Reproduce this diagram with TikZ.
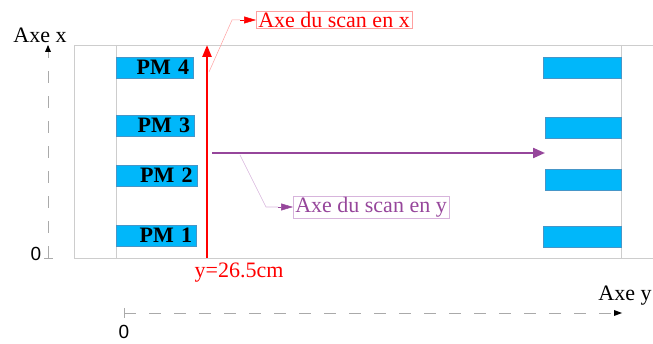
\documentclass[tikz,border=0pt]{standalone}
\usepackage{fontspec}
\setmainfont{Liberation Serif}
\newfontfamily\zerofont{Liberation Sans}
\usetikzlibrary{arrows.meta}
\definecolor{pmblue}{RGB}{0,183,250}
\definecolor{pmedge}{RGB}{70,150,200}
\definecolor{frame}{RGB}{205,205,205}
\definecolor{axgray}{RGB}{170,170,170}
\definecolor{scanpurple}{RGB}{150,70,155}
\definecolor{lightpurple}{RGB}{215,180,220}
\definecolor{lightred}{RGB}{255,160,160}
\tikzset{
  pmbox/.style={draw=pmedge, line width=0.4pt, fill=pmblue, minimum height=21pt, inner xsep=0pt, inner ysep=0pt, anchor=north west, align=right, font=\fontsize{22}{22}\selectfont\bfseries},
  bigtxt/.style={font=\fontsize{22}{24}\selectfont, inner sep=1pt},
  zerotxt/.style={font=\zerofont\fontsize{19}{21}\selectfont, inner sep=0pt},
  framel/.style={draw=frame, line width=0.8pt},
  axisl/.style={draw=axgray, line width=0.6pt, dash pattern=on 12pt off 13pt},
  callbox/.style={draw, line width=0.5pt, inner xsep=2pt, inner ysep=1pt, font=\fontsize{22}{24}\selectfont},
}
\begin{document}
\begin{tikzpicture}[x=1pt,y=-1pt]
\useasboundingbox (0,0) rectangle (653,344);
% frame
\draw[framel] (74,45) -- (653,45);
\draw[framel] (74,258) -- (653,258);
\draw[framel] (74,45) -- (74,258);
\draw[framel] (116,45) -- (116,258);
\draw[framel] (621,45) -- (621,258);
% left PMs
\node[pmbox, minimum width=77pt, text width=69pt] (pm4) at (116,57) {PM 4};
\node[pmbox, minimum width=78pt, text width=70pt] (pm3) at (116,115) {PM 3};
\node[pmbox, minimum width=81pt, text width=72pt] (pm2) at (116,165) {PM 2};
\node[pmbox, minimum width=80pt, text width=72pt] (pm1) at (116,225) {PM 1};
% right PMs
\node[pmbox, minimum width=78pt] (r4) at (543,57) {};
\node[pmbox, minimum width=76pt] (r3) at (545,117) {};
\node[pmbox, minimum width=76pt] (r2) at (545,169) {};
\node[pmbox, minimum width=78pt] (r1) at (543,226) {};
% axes
\coordinate (xa0) at (48,258);
\coordinate (xa1) at (48,45);
\draw[axisl] (xa0) -- (xa1);
\draw[axgray, line width=0.6pt] (44,258) -- (53,258);
\fill[black] (48,45) -- (45,52) -- (51,52) -- cycle;
\node[bigtxt] (axex) at (40,35) {Axe x};
\node[zerotxt] (zx) at (36,254) {0};
\coordinate (ya0) at (124,313);
\coordinate (ya1) at (618,313);
\draw[axisl] (ya0) -- (ya1);
\draw[axgray, line width=0.6pt] (124,308) -- (124,318);
\fill[black] (622,313) -- (614,310) -- (614,316) -- cycle;
\node[bigtxt] (axey) at (625,296) {Axe y};
\node[zerotxt] (zy) at (124,332) {0};
% red scan
\coordinate (rs0) at (207,258);
\coordinate (rs1) at (207,45);
\draw[red, line width=2.4pt, -{Triangle[length=12pt,width=9pt]}] (rs0) -- (rs1);
\node[bigtxt, red] (ylab) at (239,273) {y=26.5cm};
\node[callbox, draw=lightred, text=red, anchor=west] (cx) at (256,20) {Axe du scan en x};
\coordinate (cxs) at (209,72);
\draw[lightred, line width=0.5pt] (cxs) -- (232,20) -- (240,20);
\draw[red, -{Triangle[length=12pt,width=7pt]}, line width=0.5pt] (240,20) -- (cx.west);
% purple scan
\coordinate (ps0) at (212,153);
\coordinate (ps1) at (545,153);
\draw[scanpurple, line width=2.2pt, -{Triangle[length=12pt,width=10pt]}] (ps0) -- (ps1);
\node[callbox, draw=lightpurple, text=scanpurple, anchor=west] (cy) at (293,207) {Axe du scan en y};
\coordinate (cys) at (240,155);
\draw[lightpurple, line width=0.6pt] (cys) -- (266,207) -- (278,207);
\draw[scanpurple, -{Triangle[length=12pt,width=7pt]}, line width=0.5pt] (278,207) -- (cy.west);
\end{tikzpicture}
\end{document}
